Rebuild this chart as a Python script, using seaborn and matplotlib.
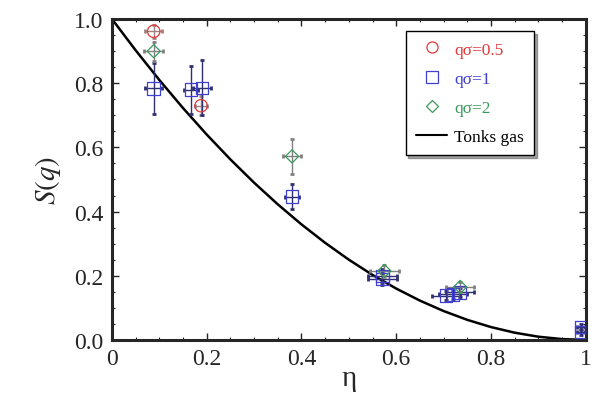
import numpy as np
import pandas as pd
import matplotlib
matplotlib.use("Agg")
import matplotlib.pyplot as plt
import seaborn as sns
from matplotlib.lines import Line2D
from matplotlib.ticker import MultipleLocator

# ---- data ----
eta_05 = [0.088, 0.188]
s_05 = [0.962, 0.730]
xerr_05 = [0.018, 0.012]
yerr_05 = [0.02, 0.03]

eta_1 = [0.088, 0.167, 0.190, 0.380, 0.571, 0.571, 0.705, 0.720, 0.735, 0.990, 0.990]
s_1 = [0.784, 0.780, 0.786, 0.447, 0.190, 0.200, 0.138, 0.142, 0.148, 0.040, 0.025]
xerr_1 = [0.018, 0.015, 0.018, 0.015, 0.03, 0.03, 0.03, 0.03, 0.03, 0.008, 0.008]
yerr_1 = [0.08, 0.075, 0.085, 0.04, 0.02, 0.02, 0.015, 0.015, 0.015, 0.01, 0.01]

eta_2 = [0.088, 0.380, 0.575, 0.735]
s_2 = [0.900, 0.572, 0.215, 0.165]
xerr_2 = [0.02, 0.02, 0.03, 0.03]
yerr_2 = [0.03, 0.055, 0.02, 0.015]

tonks_eta = [0.0, 0.05, 0.1, 0.15, 0.2, 0.25, 0.3, 0.35, 0.4, 0.45, 0.5,
             0.55, 0.6, 0.65, 0.7, 0.75, 0.8, 0.85, 0.9, 0.95, 1.0]
tonks_s = [1.0, 0.9025, 0.81, 0.7225, 0.64, 0.5625, 0.49, 0.4225, 0.36, 0.3025, 0.25,
           0.2025, 0.16, 0.1225, 0.09, 0.0625, 0.04, 0.0225, 0.01, 0.0025, 0.0]

x_ticks = [0, 0.2, 0.4, 0.6, 0.8, 1.0]
x_ticklabels = ["0", "0.2", "0.4", "0.6", "0.8", "1"]
y_ticks = [0, 0.2, 0.4, 0.6, 0.8, 1.0]
y_ticklabels = ["0.0", "0.2", "0.4", "0.6", "0.8", "1.0"]

labels = ["q\u03c3=0.5", "q\u03c3=1", "q\u03c3=2"]
colors = ["#e03a3a", "#4040d0", "#3a9a5a"]
ecolors = ["#a08080", "#303070", "#808080"]
markers = ["o", "s", "D"]

sns.set_style("ticks")
plt.rcParams["font.family"] = ["Liberation Serif", "DejaVu Serif"]
plt.rcParams["mathtext.fontset"] = "stix"

fig = plt.figure(figsize=(5.94, 4.02), dpi=100)
ax = fig.add_axes([0.1886, 0.152, 0.7974, 0.798])

# Tonks gas curve
sns.lineplot(x=tonks_eta, y=tonks_s, ax=ax, color="black", lw=1.8,
             estimator=None, sort=False, legend=False, zorder=2)

sets = [(eta_05, s_05, xerr_05, yerr_05), (eta_1, s_1, xerr_1, yerr_1),
        (eta_2, s_2, xerr_2, yerr_2)]
for (ex, sy, xe, ye), lab, c, ec, m in zip(sets, labels, colors, ecolors, markers):
    ax.errorbar(ex, sy, xerr=xe, yerr=ye, fmt="none", ecolor=ec, elinewidth=1.0,
                capsize=1.5, capthick=2.0, zorder=3)
    df = pd.DataFrame({"eta": ex, "S": sy})
    sns.scatterplot(data=df, x="eta", y="S", ax=ax, marker=m,
                    s=80 if m != "D" else 45, facecolors="none",
                    edgecolor=c, linewidth=0.9, zorder=4, legend=False)

ax.set_xlim(0, 1)
ax.set_ylim(0, 1.0)
ax.set_xticks(x_ticks)
ax.set_xticklabels(x_ticklabels)
ax.set_yticks(y_ticks)
ax.set_yticklabels(y_ticklabels)
ax.xaxis.set_minor_locator(MultipleLocator(0.05))
ax.yaxis.set_minor_locator(MultipleLocator(0.05))
ax.tick_params(which="both", direction="in", top=True, right=True,
               labelsize=17, pad=6)
ax.tick_params(which="major", length=5, width=1)
ax.tick_params(which="minor", length=2.5, width=0.8)
for sp in ax.spines.values():
    sp.set_linewidth(2.2)

ax.set_xlabel("\u03b7", fontsize=21, labelpad=-3)
ax.set_ylabel("$S(q)$", fontsize=21, labelpad=8)

handles = [Line2D([], [], marker=m, ls="none", mfc="none", mec=c, mew=0.9,
                  ms=8 if m != "D" else 6) for m, c in zip(markers, colors)]
handles.append(Line2D([], [], color="black", lw=1.5))
leg = ax.legend(handles, labels + ["Tonks gas"], loc="upper right",
                bbox_to_anchor=(0.91, 0.99), fontsize=12.5, frameon=True,
                fancybox=False, shadow=True, handlelength=1.8,
                handletextpad=0.4, borderpad=0.6, labelspacing=0.75)
leg.get_frame().set_edgecolor("black")
leg.get_frame().set_linewidth(1.0)
for t, c in zip(leg.get_texts(), colors + ["black"]):
    t.set_color(c)

fig.savefig("out.png", dpi=100)
